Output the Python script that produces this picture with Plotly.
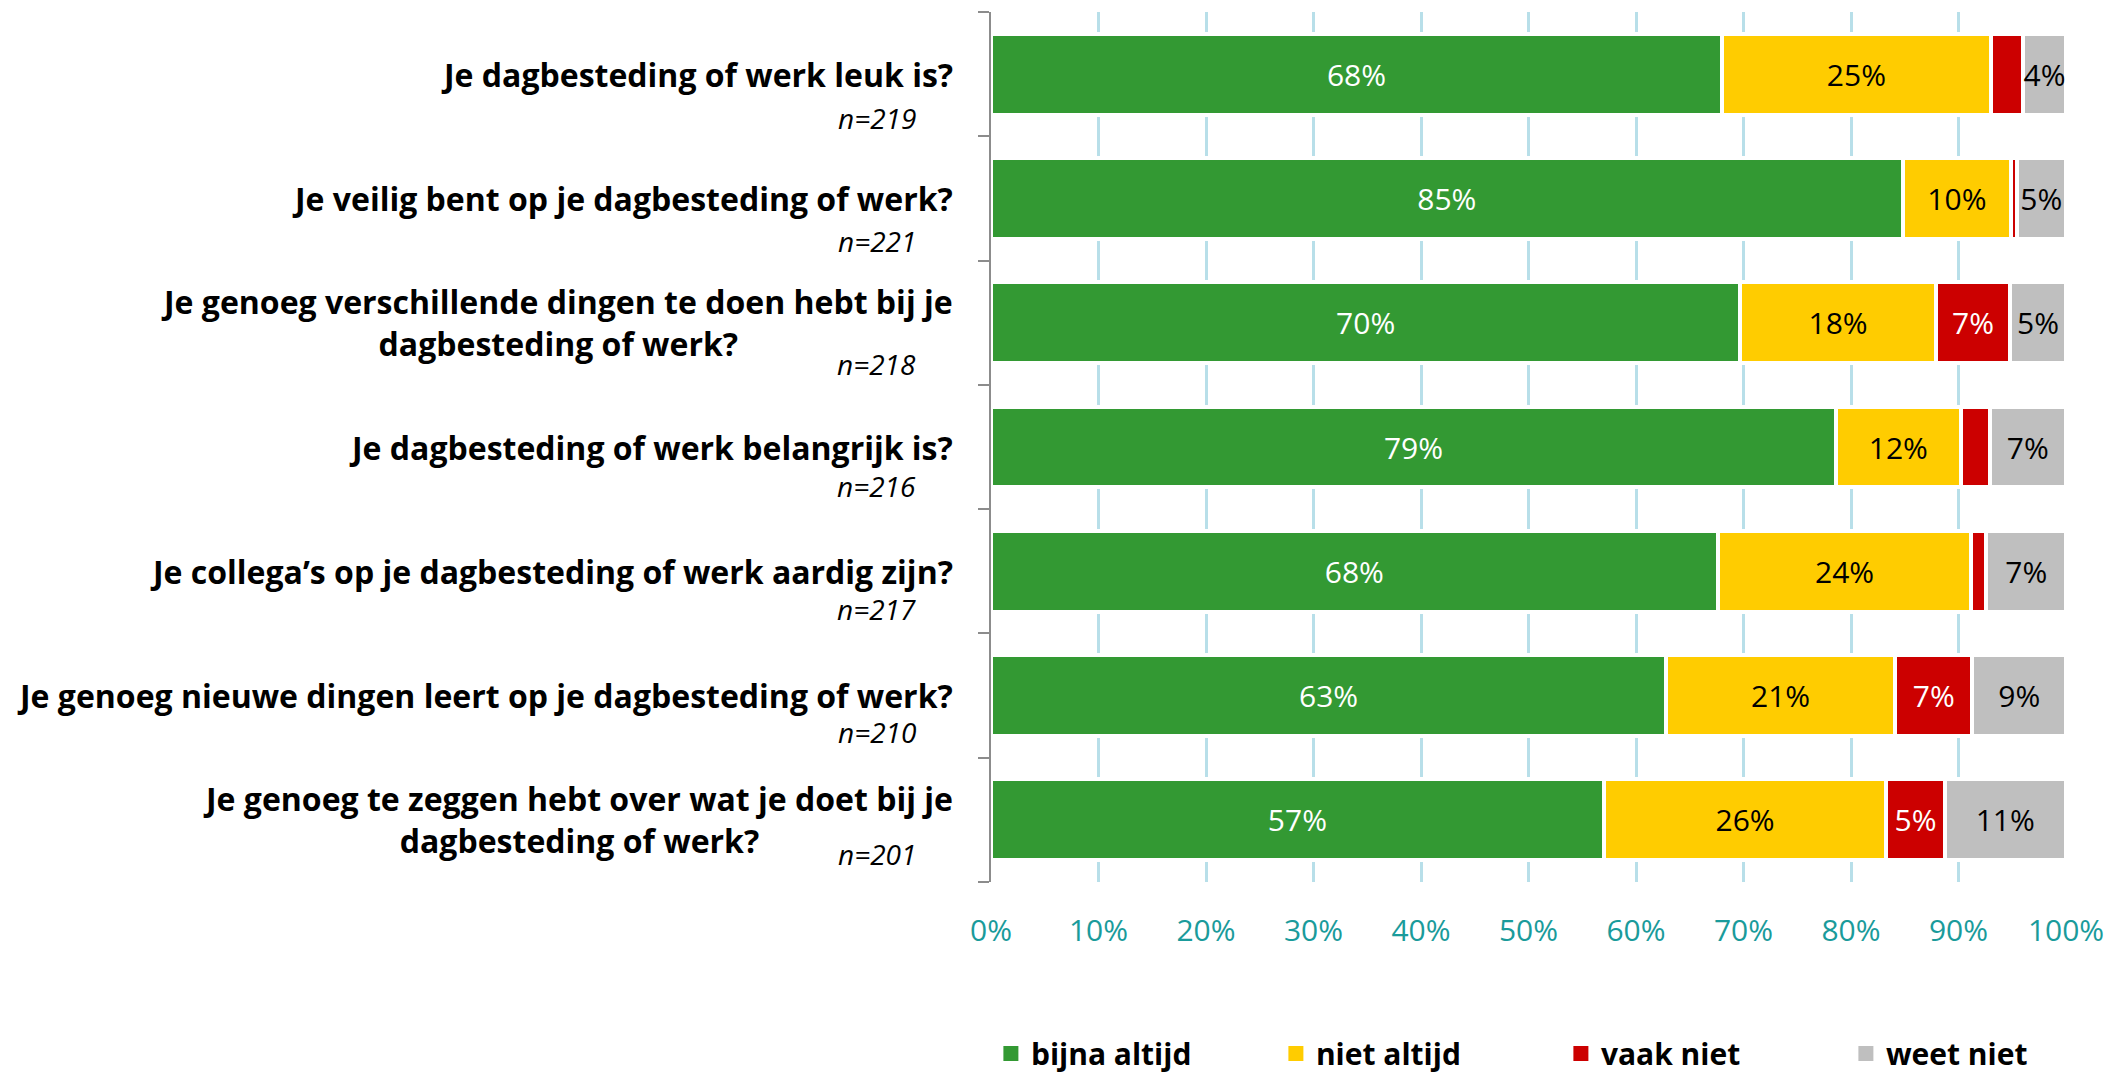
import plotly.graph_objects as go

categories = [
    "Je dagbesteding of werk leuk is?",
    "Je veilig bent op je dagbesteding of werk?",
    "Je genoeg verschillende dingen te doen hebt bij je<br>dagbesteding of werk?",
    "Je dagbesteding of werk belangrijk is?",
    "Je collega\u2019s op je dagbesteding of werk aardig zijn?",
    "Je genoeg nieuwe dingen leert op je dagbesteding of werk?",
    "Je genoeg te zeggen hebt over wat je doet bij je<br>dagbesteding of werk?",
]
n_labels = ["n=219", "n=221", "n=218", "n=216", "n=217", "n=210", "n=201"]

bijna_altijd = [68.0, 84.8, 69.7, 78.6, 67.6, 62.8, 57.0]
niet_altijd = [25.0, 10.1, 18.2, 11.6, 23.6, 21.3, 26.3]
vaak_niet = [3.0, 0.5, 6.9, 2.7, 1.4, 7.2, 5.4]
weet_niet = [4.0, 4.6, 5.2, 7.1, 7.4, 8.7, 11.3]

series_names = ["bijna altijd", "niet altijd", "vaak niet", "weet niet"]
series_values = [bijna_altijd, niet_altijd, vaak_niet, weet_niet]
series_colors = ["#339933", "#FFCC00", "#CC0000", "#BFBFBF"]
text_colors = ["white", "black", "white", "black"]

x_ticks = [0, 10, 20, 30, 40, 50, 60, 70, 80, 90, 100]
x_ticklabels = [f"{t}%" for t in x_ticks]

# vertical pixel offsets of the n= labels below each question
n_label_shift = [-44, -43, -41, -39, -38, -36, -34]

FONT = "Open Sans"
ycats = list(range(len(categories)))

fig = go.Figure()
for name, vals, col, tcol in zip(series_names, series_values, series_colors, text_colors):
    labels = [f"{round(v)}%" if v >= 3.5 else "" for v in vals]
    fig.add_trace(go.Bar(
        y=ycats, x=vals, orientation="h", name=name,
        marker=dict(color=col, line=dict(color="white", width=4)),
        text=labels, textposition="inside", insidetextanchor="middle",
        textangle=0, constraintext="none",
        textfont=dict(family=FONT, size=30, color=tcol),
        hoverinfo="skip", showlegend=False,
    ))
    # legend proxy
    fig.add_trace(go.Scatter(
        x=[None], y=[None], mode="markers", name=name,
        marker=dict(symbol="square", size=15, color=col),
        showlegend=True, hoverinfo="skip",
    ))

for i, (cat, nl) in enumerate(zip(categories, n_labels)):
    fig.add_annotation(
        x=0, xref="paper", y=i, yref="y", text=f"<b>{cat}</b>",
        xanchor="right", yanchor="middle", align="center", xshift=-36,
        showarrow=False, font=dict(family=FONT, size=32, color="black"),
    )
    fig.add_annotation(
        x=0, xref="paper", y=i, yref="y", text=f"<i>{nl}</i>",
        xanchor="right", yanchor="middle", align="right", xshift=-73,
        yshift=n_label_shift[i],
        showarrow=False, font=dict(family=FONT, size=28, color="black"),
    )

fig.update_layout(
    width=2105, height=1066,
    margin=dict(l=983, r=47, t=4, b=192, autoexpand=False),
    barmode="stack", bargap=0.35,
    plot_bgcolor="white", paper_bgcolor="white",
    font=dict(family=FONT, size=30, color="black"),
    showlegend=True,
    legend=dict(
        orientation="h", x=-0.0001, xanchor="left", y=-0.197, yanchor="middle",
        traceorder="normal",
        entrywidth=240, entrywidthmode="pixels",
        font=dict(family=FONT, size=30, color="black", weight="bold"),
        itemclick=False, itemdoubleclick=False,
    ),
    xaxis=dict(
        range=[0, 100], tickvals=x_ticks, ticktext=x_ticklabels,
        showgrid=True, gridcolor="#B8DFE9", gridwidth=3,
        zeroline=False, showline=False, ticks="",
        ticklabelstandoff=28,
        tickfont=dict(family=FONT, size=30, color="#1A9B9B"),
        fixedrange=True,
    ),
    yaxis=dict(
        tickvals=[i - 0.5 for i in range(len(categories) + 1)],
        ticktext=[""] * (len(categories) + 1),
        range=[len(categories) - 0.5, -0.5],
        showticklabels=False, showgrid=False, zeroline=False,
        showline=True, linecolor="#8C8C8C", linewidth=2,
        ticks="outside", ticklen=11, tickcolor="#8C8C8C", tickwidth=2,
        fixedrange=True,
    ),
)

fig.write_html("out.html")
